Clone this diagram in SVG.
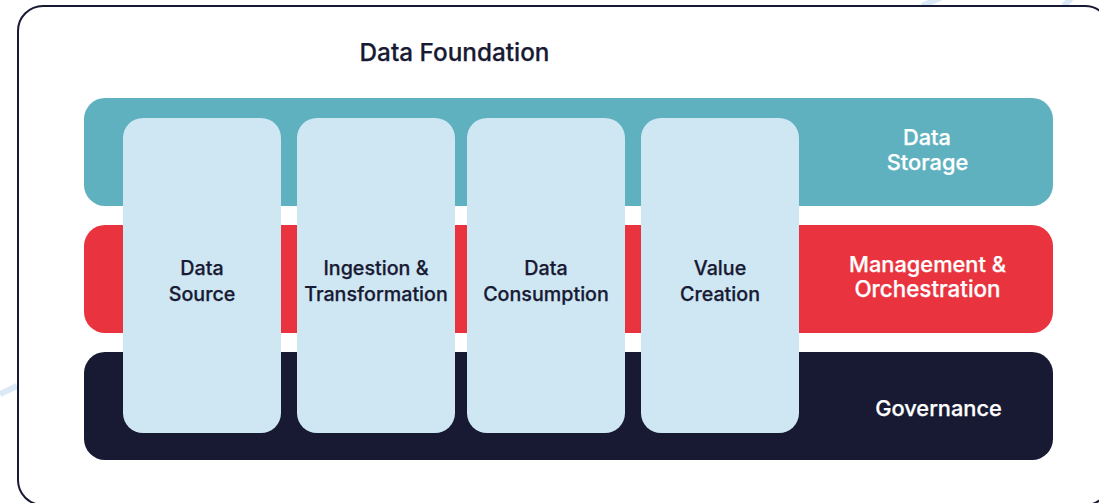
<svg xmlns="http://www.w3.org/2000/svg" width="1099" height="503" viewBox="0 0 1099 503">
<style>
.t{font-family:"Inter","Noto Sans",sans-serif;font-weight:500;font-size:19.7px;text-anchor:middle;stroke-width:.25px}
.b{font-size:21.8px}
.d{fill:#181a33;stroke:#181a33}.w{fill:#ffffff;stroke:#ffffff}
.col{fill:#cfe7f3}
.faint{stroke:#dbe9f6;stroke-width:6;fill:none}
</style>
<rect width="1099" height="503" fill="#ffffff"/>
<g id="background-lines">
<path class="faint" d="M0 394L17 386"/>
<path class="faint" d="M922 6L942 -3"/>
<path class="faint" d="M1064 6L1072 -3"/>
</g>
<g id="frame"><rect x="18" y="6" width="1092" height="499" rx="25" fill="#ffffff" stroke="#181a33" stroke-width="2"/></g>
<text id="title" class="t d" x="454.500" y="61" style="font-size:24.3px">Data Foundation</text>
<g id="storage"><rect x="84" y="98" width="969" height="108" rx="21" fill="#5fb1bf"/><text class="t b w" x="927" y="145">Data</text><text class="t b w" x="927.500" y="170">Storage</text></g>
<g id="management"><rect x="84" y="225" width="969" height="108" rx="21" fill="#e9343f"/><text class="t b w" x="927.500" y="272">Management &amp;</text><text class="t b w" x="927.500" y="297" style="font-size:22.4px">Orchestration</text></g>
<g id="governance"><rect x="84" y="352" width="969" height="108" rx="21" fill="#181a33"/><text class="t b w" x="938.500" y="416">Governance</text></g>
<g id="source"><rect class="col" x="123" y="118" width="158" height="315" rx="20"/><text class="t d" x="202" y="275">Data</text><text class="t d" x="202" y="301">Source</text></g>
<g id="ingestion"><rect class="col" x="297" y="118" width="158" height="315" rx="20"/><text class="t d" x="376" y="275">Ingestion &amp;</text><text class="t d" x="376" y="301">Transformation</text></g>
<g id="consumption"><rect class="col" x="467" y="118" width="158" height="315" rx="20"/><text class="t d" x="546" y="275">Data</text><text class="t d" x="546" y="301">Consumption</text></g>
<g id="value"><rect class="col" x="641" y="118" width="158" height="315" rx="20"/><text class="t d" x="720" y="275">Value</text><text class="t d" x="720" y="301">Creation</text></g>
</svg>
